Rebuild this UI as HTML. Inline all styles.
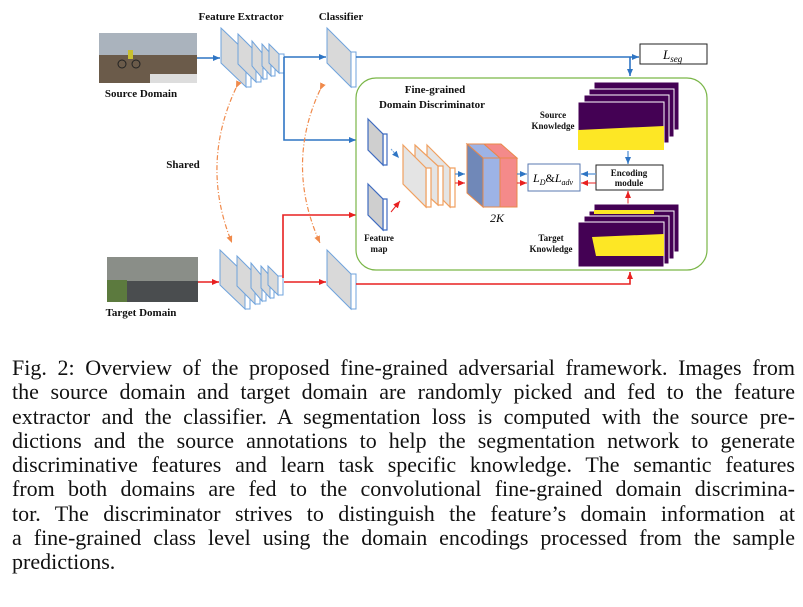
<!DOCTYPE html>
<html><head><meta charset="utf-8"><style>
body{margin:0;background:#fff;width:803px;height:607px;overflow:hidden;position:relative}
svg{position:absolute;left:0;top:0}
.b{font-family:"Liberation Serif",serif;font-weight:bold;font-size:11px;fill:#111}
.s{font-family:"Liberation Serif",serif;font-weight:bold;font-size:9px;fill:#111}
#cap{position:absolute;left:12px;top:356px;width:783px;font-family:"Liberation Serif",serif;font-size:22px;line-height:24.25px;color:#111}
#cap div{text-align:justify;text-align-last:justify;white-space:nowrap}
#cap div.l{text-align-last:left}
</style></head><body>
<svg width="803" height="340" viewBox="0 0 803 340">
<defs>
<marker id="ab" markerWidth="8" markerHeight="8" refX="7" refY="4" orient="auto" markerUnits="userSpaceOnUse"><path d="M0,1 L7,4 L0,7z" fill="#2e75c4"/></marker>
<marker id="ar" markerWidth="8" markerHeight="8" refX="7" refY="4" orient="auto" markerUnits="userSpaceOnUse"><path d="M0,1 L7,4 L0,7z" fill="#e82020"/></marker>
<marker id="ao" markerWidth="8" markerHeight="8" refX="7" refY="4" orient="auto" markerUnits="userSpaceOnUse"><path d="M0,1 L7,4 L0,7z" fill="#f08a4b"/></marker>
</defs>
<rect x="99" y="33" width="98" height="50" fill="#7d7266"/>
<rect x="99" y="33" width="98" height="22" fill="#aab3bd"/>
<rect x="99" y="55" width="98" height="28" fill="#6b5b4a"/>
<rect x="150" y="74" width="47" height="9" fill="#ddd"/>
<circle cx="122" cy="64" r="4" fill="none" stroke="#222"/><circle cx="136" cy="64" r="4" fill="none" stroke="#222"/>
<rect x="128" y="50" width="5" height="9" fill="#c8c030"/>
<rect x="107" y="257" width="91" height="45" fill="#4a4d4f"/>
<rect x="107" y="257" width="91" height="24" fill="#8a8e88"/>
<rect x="107" y="280" width="20" height="22" fill="#5c7a3e"/>
<text class="b" x="141" y="97" text-anchor="middle">Source Domain</text>
<text class="b" x="141" y="316" text-anchor="middle">Target Domain</text>
<text class="b" x="241" y="20" text-anchor="middle">Feature Extractor</text>
<text class="b" x="341" y="20" text-anchor="middle">Classifier</text>
<text class="b" x="183" y="168" text-anchor="middle">Shared</text>
<g stroke="#6fa3dc" stroke-width="1">
<g id="fe">
<polygon points="246,52 251,52 251,87 246,87" fill="#fff"/><polygon points="221,28 246,52 246,87 221,63" fill="#d9d9d9"/>
<polygon points="256,52 261,52 261,82 256,82" fill="#fff"/><polygon points="238,34 256,52 256,82 238,64" fill="#d9d9d9"/>
<polygon points="263,54 267,54 267,79 263,79" fill="#fff"/><polygon points="252,41 263,54 263,79 252,66" fill="#d9d9d9"/>
<polygon points="271,54 275,54 275,76 271,76" fill="#fff"/><polygon points="262,44 271,54 271,76 262,66" fill="#d9d9d9"/>
<polygon points="279,54 284,54 284,73 279,73" fill="#fff"/><polygon points="269,44 279,54 279,73 269,63" fill="#d9d9d9"/>
</g>
<use href="#fe" transform="translate(-1,222)"/>
<polygon points="351,52 356,52 356,87 351,87" fill="#fff"/><polygon points="327,28 351,52 351,87 327,63" fill="#d9d9d9"/>
<polygon points="351,274 356,274 356,309 351,309" fill="#fff"/><polygon points="327,250 351,274 351,309 327,285" fill="#d9d9d9"/>
</g>
<g stroke="#2e75c4" stroke-width="1.6" fill="none">
<line x1="197" y1="58" x2="220" y2="58" marker-end="url(#ab)"/>
<line x1="284" y1="57" x2="326" y2="57" marker-end="url(#ab)"/>
<line x1="356" y1="57" x2="639" y2="57" marker-end="url(#ab)"/>
<line x1="630" y1="57" x2="630" y2="76" marker-end="url(#ab)"/>
<polyline points="284,57 284,140 356,140" marker-end="url(#ab)"/>
</g>
<g stroke="#e82020" stroke-width="1.6" fill="none">
<line x1="198" y1="282" x2="219" y2="282" marker-end="url(#ar)"/>
<line x1="284" y1="282" x2="326" y2="282" marker-end="url(#ar)"/>
<polyline points="356,284 630,284 630,272" marker-end="url(#ar)"/>
<polyline points="283,278 283,215 356,215" marker-end="url(#ar)"/>
</g>
<g stroke="#f08a4b" stroke-width="1.2" fill="none" stroke-dasharray="5,2,1,2">
<path d="M236,88 Q200,165 232,243" marker-end="url(#ao)" marker-start="url(#ao)"/>
<path d="M320,90 Q285,165 320,243" marker-end="url(#ao)" marker-start="url(#ao)"/>
</g>
<rect x="640" y="44" width="67" height="20" fill="#fff" stroke="#222"/>
<text x="663" y="59" font-family="Liberation Serif,serif" font-style="italic" font-size="13">L<tspan font-size="9" dy="3">seg</tspan></text>
<rect x="356" y="78" width="351" height="192" rx="20" fill="none" stroke="#7ab648" stroke-width="1.2"/>
<text class="b" x="435" y="93" text-anchor="middle">Fine-grained</text>
<text class="b" x="432" y="108" text-anchor="middle">Domain Discriminator</text>
<g stroke="#3f6cc0" stroke-width="1.2">
<polygon points="383,134 387,134 387,165 383,165" fill="#fff"/><polygon points="368,119 383,134 383,165 368,150" fill="#cfcfcf"/>
<polygon points="383,199 387,199 387,230 383,230" fill="#fff"/><polygon points="368,184 383,199 383,230 368,215" fill="#cfcfcf"/>
</g>
<text class="s" x="379" y="241" text-anchor="middle">Feature</text>
<text class="s" x="379" y="252" text-anchor="middle">map</text>
<line x1="391" y1="149" x2="399" y2="158" stroke="#6fa3dc" stroke-dasharray="2,1" marker-end="url(#ab)"/>
<line x1="391" y1="212" x2="400" y2="201" stroke="#e82020" marker-end="url(#ar)"/>
<g stroke="#f0a060" stroke-width="1.2">
<polygon points="450,168 455,168 455,207 450,207" fill="#fff"/><polygon points="427,145 450,168 450,207 427,184" fill="#e4e4e4"/>
<polygon points="438,166 443,166 443,205 438,205" fill="#fff"/><polygon points="415,145 438,166 438,205 415,184" fill="#e4e4e4"/>
<polygon points="426,168 431,168 431,207 426,207" fill="#fff"/><polygon points="403,145 426,168 426,207 403,184" fill="#e4e4e4"/>
</g>
<line x1="455" y1="174" x2="465" y2="174" stroke="#2e75c4" marker-end="url(#ab)"/>
<line x1="455" y1="183" x2="465" y2="183" stroke="#e82020" marker-end="url(#ar)"/>
<g stroke="#e8884a" stroke-width="1">
<polygon points="467,144 484,144 500,158 483,158" fill="#9db3e6"/>
<polygon points="484,144 501,144 517,158 500,158" fill="#f48a8a"/>
<polygon points="467,144 483,158 483,207 467,193" fill="#7088b8"/>
<rect x="483" y="158" width="17" height="49" fill="#9db3e6"/>
<rect x="500" y="158" width="17" height="49" fill="#f48a8a"/>
</g>
<text x="497" y="222" font-family="Liberation Serif,serif" font-style="italic" font-size="12" text-anchor="middle">2K</text>
<line x1="517" y1="174" x2="527" y2="174" stroke="#2e75c4" marker-end="url(#ab)"/>
<line x1="517" y1="183" x2="527" y2="183" stroke="#e82020" marker-end="url(#ar)"/>
<rect x="528" y="164" width="52" height="27" fill="#fff" stroke="#5a7ab0"/>
<text x="533" y="182" font-family="Liberation Serif,serif" font-style="italic" font-size="12">L<tspan font-size="8" dy="3">D</tspan><tspan dy="-3" font-style="normal">&amp;</tspan>L<tspan font-size="8" dy="3">adv</tspan></text>
<rect x="596" y="165" width="67" height="25" fill="#fff" stroke="#222"/>
<text class="s" x="629" y="176" text-anchor="middle">Encoding</text>
<text class="s" x="629" y="186" text-anchor="middle">module</text>
<line x1="596" y1="174" x2="581" y2="174" stroke="#6fa3dc" stroke-width="1.5" marker-end="url(#ab)"/>
<line x1="596" y1="183" x2="581" y2="183" stroke="#e82020" marker-end="url(#ar)"/>
<line x1="628" y1="151" x2="628" y2="164" stroke="#6fa3dc" stroke-width="1.5" marker-end="url(#ab)"/>
<line x1="628" y1="206" x2="628" y2="191" stroke="#f07070" stroke-width="1.5" marker-end="url(#ar)"/>
<g stroke="#fff" stroke-width="1">
<rect x="594" y="82" width="85" height="48" fill="#440154"/>
<rect x="589" y="89" width="85" height="48" fill="#440154"/>
<rect x="584" y="95" width="85" height="48" fill="#440154"/>
<rect x="578" y="102" width="86" height="48" fill="#440154"/>
<polygon points="578,130 664,126 664,150 578,150" fill="#fde725" stroke="none"/>
<rect x="594" y="204" width="85" height="48" fill="#440154"/>
<rect x="589" y="211" width="85" height="48" fill="#440154"/>
<rect x="584" y="216" width="85" height="48" fill="#440154"/>
<rect x="578" y="222" width="86" height="45" fill="#440154"/>
<polygon points="592,237 664,234 664,256 596,256" fill="#fde725" stroke="none"/>
<rect x="594" y="210" width="60" height="4" fill="#fde725" stroke="none"/>
</g>
<text class="s" x="553" y="118" text-anchor="middle">Source</text>
<text class="s" x="553" y="129" text-anchor="middle">Knowledge</text>
<text class="s" x="551" y="241" text-anchor="middle">Target</text>
<text class="s" x="551" y="252" text-anchor="middle">Knowledge</text>
</svg>
<div id="cap">
<div>Fig. 2: Overview of the proposed fine-grained adversarial framework. Images from</div>
<div>the source domain and target domain are randomly picked and fed to the feature</div>
<div>extractor and the classifier. A segmentation loss is computed with the source pre-</div>
<div>dictions and the source annotations to help the segmentation network to generate</div>
<div>discriminative features and learn task specific knowledge. The semantic features</div>
<div>from both domains are fed to the convolutional fine-grained domain discrimina-</div>
<div>tor. The discriminator strives to distinguish the feature’s domain information at</div>
<div>a fine-grained class level using the domain encodings processed from the sample</div>
<div class="l">predictions.</div>
</div>
</body></html>
